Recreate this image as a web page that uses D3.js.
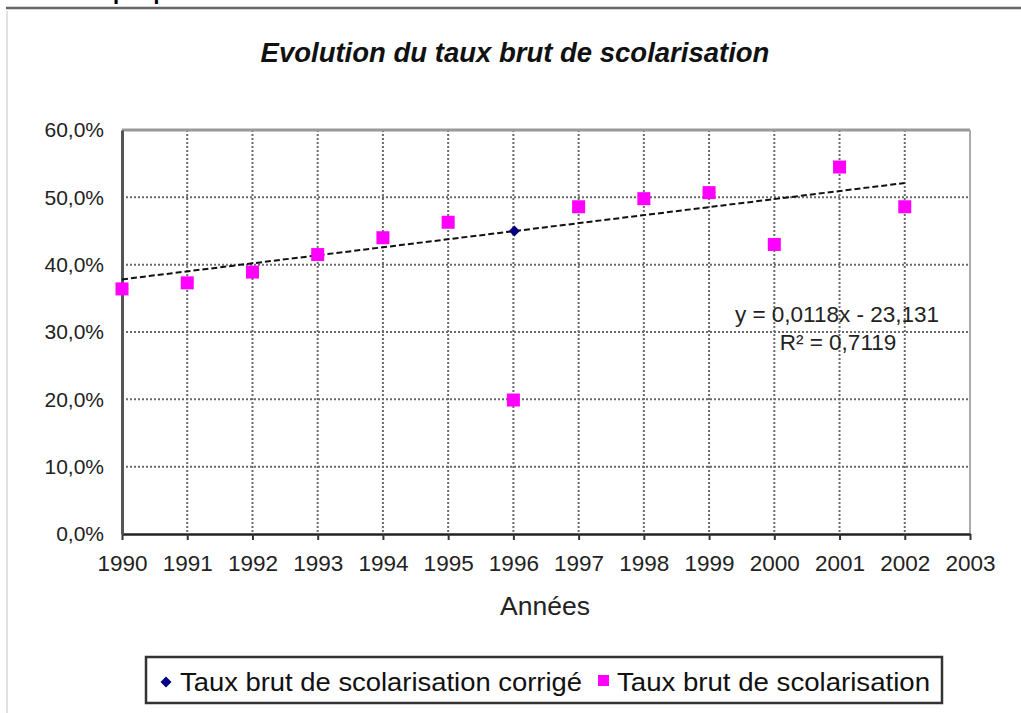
<!DOCTYPE html>
<html>
<head>
<meta charset="utf-8">
<script src="https://cdn.jsdelivr.net/npm/d3@7"></script>
<style>
  html, body { margin: 0; padding: 0; background: #fff; }
  svg { display: block; font-family: "Liberation Sans", Arial, sans-serif; }
</style>
</head>
<body>
<svg id="chart" width="1021" height="713"></svg>
<script>
// ---- data ----
const years = [1990, 1991, 1992, 1993, 1994, 1995, 1996, 1997, 1998, 1999, 2000, 2001, 2002];
const tauxBrut = [0.364, 0.373, 0.389, 0.415, 0.440, 0.463, 0.199, 0.486, 0.498, 0.507, 0.430, 0.545, 0.486];
const tauxCorrige = [0.364, 0.373, 0.389, 0.415, 0.440, 0.463, 0.450, 0.486, 0.498, 0.507, 0.430, 0.545, 0.486];
const xTicks = [1990, 1991, 1992, 1993, 1994, 1995, 1996, 1997, 1998, 1999, 2000, 2001, 2002, 2003];
const yTicks = [0, 0.1, 0.2, 0.3, 0.4, 0.5, 0.6];
const seriesNames = ["Taux brut de scolarisation corrigé", "Taux brut de scolarisation"];
const trendLabels = ["y = 0,0118x - 23,131", "R² = 0,7119"];
const titleText = "Evolution du taux brut de scolarisation";
const xTitle = "Années";
const headingText = "Graphique";

const svg = d3.select("#chart");
const frLocale = d3.formatLocale({decimal: ",", thousands: " ", grouping: [3], currency: ["", " €"], percent: "%"});
const pct = frLocale.format(".1%");

const x = d3.scaleLinear().domain([1990, 2003]).range([122, 970]);
const y = d3.scaleLinear().domain([0, 0.6]).range([534, 130]);

// page decorations (cut heading, frame)
svg.append("text").attr("x", 75).attr("y", -1).attr("font-size", 22).attr("font-weight", "bold")
  .attr("fill", "#000").text(headingText);
svg.append("line").attr("x1", 6).attr("x2", 1021).attr("y1", 8).attr("y2", 8)
  .attr("stroke", "#666").attr("stroke-width", 2.5);
svg.append("line").attr("x1", 7).attr("x2", 7).attr("y1", 11).attr("y2", 713)
  .attr("stroke", "#e2e2e2").attr("stroke-width", 2);

// title
svg.append("text").attr("x", 515).attr("y", 62).attr("text-anchor", "middle")
  .attr("font-size", 27.5).attr("font-weight", "bold").attr("font-style", "italic")
  .attr("fill", "#111").text(titleText);

// grid
const grid = svg.append("g");
grid.selectAll("line.h").data(yTicks.filter(d => d > 0 && d < 0.6)).join("line")
  .attr("x1", x(1990)).attr("x2", x(2003)).attr("y1", d => y(d)).attr("y2", d => y(d))
  .attr("stroke", "#6a6a6a").attr("stroke-width", 2).attr("stroke-dasharray", "2,2");
grid.selectAll("line.v").data(xTicks.filter(d => d > 1990 && d < 2003)).join("line")
  .attr("x1", d => x(d)).attr("x2", d => x(d)).attr("y1", y(0.6)).attr("y2", y(0))
  .attr("stroke", "#6a6a6a").attr("stroke-width", 2).attr("stroke-dasharray", "2,2");

// plot border (top, right)
svg.append("line").attr("x1", x(1990)).attr("x2", x(2003)).attr("y1", y(0.6)).attr("y2", y(0.6))
  .attr("stroke", "#999").attr("stroke-width", 3);
svg.append("line").attr("x1", x(2003)).attr("x2", x(2003)).attr("y1", y(0.6)).attr("y2", y(0))
  .attr("stroke", "#aaa").attr("stroke-width", 2);

// axes
const xAxis = svg.append("g").attr("transform", `translate(0,${y(0)})`)
  .call(d3.axisBottom(x).tickValues(xTicks).tickFormat(d3.format("d")).tickSizeInner(6).tickSizeOuter(0).tickPadding(15));
xAxis.select(".domain").attr("stroke", "#222").attr("stroke-width", 2.5);
xAxis.selectAll(".tick line").attr("stroke", "#333").attr("stroke-width", 2);
xAxis.selectAll(".tick text").attr("font-size", 22.5).attr("fill", "#222")
  .attr("font-family", "Liberation Sans, Arial, sans-serif");

const yAxis = svg.append("g").attr("transform", `translate(${x(1990)},0)`)
  .call(d3.axisLeft(y).tickValues(yTicks).tickFormat(pct).tickSize(0).tickPadding(18));
yAxis.select(".domain").attr("stroke", "#555").attr("stroke-width", 3);
yAxis.selectAll(".tick text").attr("font-size", 21).attr("fill", "#222")
  .attr("font-family", "Liberation Sans, Arial, sans-serif");

// x axis title
svg.append("text").attr("x", 545).attr("y", 615).attr("text-anchor", "middle")
  .attr("font-size", 26.5).attr("fill", "#222").text(xTitle);

// trendline: least squares on corrected series
const n = years.length;
const mx = d3.mean(years), my = d3.mean(tauxCorrige);
const slope = d3.sum(years, (v, i) => (v - mx) * (tauxCorrige[i] - my)) / d3.sum(years, v => (v - mx) * (v - mx));
const icpt = my - slope * mx;
const trendPts = [years[0], years[n - 1]].map(v => [v, icpt + slope * v]);
svg.append("path").datum(trendPts)
  .attr("d", d3.line().x(d => x(d[0])).y(d => y(d[1])))
  .attr("fill", "none").attr("stroke", "#111").attr("stroke-width", 2).attr("stroke-dasharray", "6,3");

// corrected series: navy diamonds (rotated squares)
const diamond = d3.symbol().type(d3.symbolSquare).size(60);
svg.append("g").selectAll("path").data(years.map((v, i) => [v, tauxCorrige[i]])).join("path")
  .attr("transform", d => `translate(${x(d[0]) + 1},${y(d[1])}) rotate(45)`)
  .attr("d", diamond).attr("fill", "#000080");

// raw series: magenta squares
const sq = 13;
svg.append("g").selectAll("rect").data(years.map((v, i) => [v, tauxBrut[i]])).join("rect")
  .attr("x", d => x(d[0]) - sq / 2).attr("y", d => y(d[1]) - sq / 2)
  .attr("width", sq).attr("height", sq).attr("fill", "#ff00ff");

// trend labels
svg.append("text").attr("x", 837).attr("y", 322).attr("text-anchor", "middle")
  .attr("font-size", 22.5).attr("fill", "#222").text(trendLabels[0]);
svg.append("text").attr("x", 838).attr("y", 350).attr("text-anchor", "middle")
  .attr("font-size", 22.5).attr("fill", "#222").text(trendLabels[1]);

// legend
const lg = svg.append("g");
lg.append("rect").attr("x", 146).attr("y", 657).attr("width", 796).attr("height", 46)
  .attr("fill", "#fff").attr("stroke", "#333").attr("stroke-width", 2.5);
lg.append("path").attr("transform", "translate(166,682) rotate(45)").attr("d", diamond).attr("fill", "#000080");
lg.append("text").attr("x", 180).attr("y", 691).attr("font-size", 25).attr("fill", "#111")
  .attr("textLength", 402).attr("lengthAdjust", "spacingAndGlyphs").text(seriesNames[0]);
lg.append("rect").attr("x", 598).attr("y", 675).attr("width", 11).attr("height", 11).attr("fill", "#ff00ff");
lg.append("text").attr("x", 617).attr("y", 691).attr("font-size", 25).attr("fill", "#111")
  .attr("textLength", 313).attr("lengthAdjust", "spacingAndGlyphs").text(seriesNames[1]);
</script>
</body>
</html>
